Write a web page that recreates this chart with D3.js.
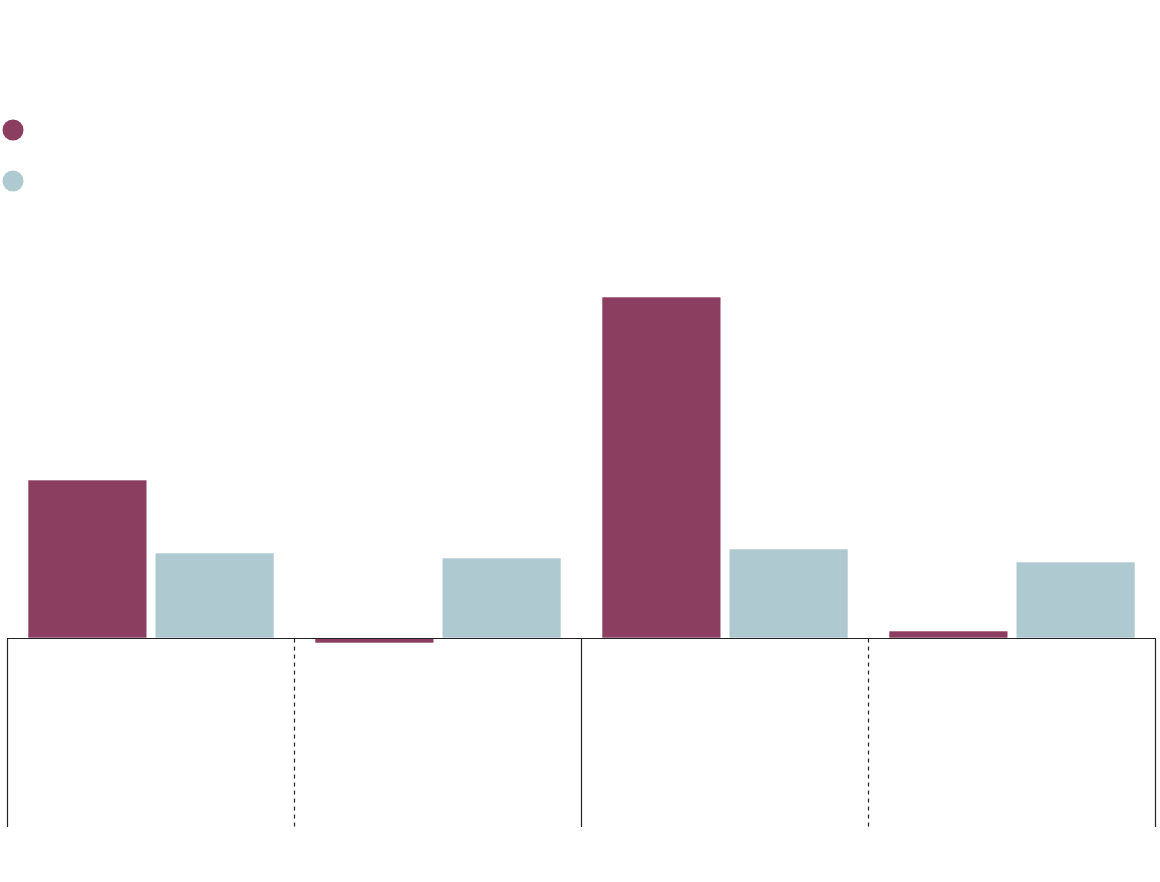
<!DOCTYPE html>
<html>
<head>
<meta charset="utf-8">
<script src="https://cdn.jsdelivr.net/npm/d3@7/dist/d3.min.js"></script>
<style>
  html, body { margin: 0; padding: 0; background: #fff; }
  svg { display: block; }
</style>
</head>
<body>
<div id="chart"></div>
<script>
// data (no labels shown in the reference)
var groups = ["g1", "g2", "g3", "g4"];
var seriesNames = ["a", "b"];
var seriesA = [15.8, -0.5, 34.1, 0.7];
var seriesB = [8.5, 8.0, 8.9, 7.6];
var colors = ["#8b3e5f", "#aecad0"];

var width = 1160, height = 882;

var svg = d3.select("#chart").append("svg")
    .attr("width", width)
    .attr("height", height);

// legend dots
var legend = svg.append("g").attr("class", "legend");
legend.selectAll("circle")
    .data(seriesNames)
    .enter().append("circle")
    .attr("cx", 13)
    .attr("cy", function (d, i) { return 130 + i * 51; })
    .attr("r", 10.5)
    .attr("fill", function (d, i) { return colors[i]; });

var x0 = d3.scaleBand()
    .domain(groups)
    .range([7, 1155])
    .paddingInner(0);

var x1 = d3.scaleBand()
    .domain(seriesNames)
    .range([21, x0.bandwidth() - 20])
    .paddingInner(0.065);

var y = d3.scaleLinear()
    .domain([-18.9, 40])
    .range([827, 238]);

var rows = groups.map(function (g, i) {
    return { group: g, values: [seriesA[i], seriesB[i]] };
});

var bars = svg.append("g").attr("class", "bars");
bars.selectAll("g")
    .data(rows)
    .enter().append("g")
    .attr("transform", function (d) { return "translate(" + x0(d.group) + ",0)"; })
    .selectAll("rect")
    .data(function (d) {
        return d.values.map(function (v, i) { return { key: seriesNames[i], value: v, i: i }; });
    })
    .enter().append("rect")
    .attr("x", function (d) { return x1(d.key); })
    .attr("width", x1.bandwidth())
    .attr("y", function (d) { return y(Math.max(0, d.value)); })
    .attr("height", function (d) { return Math.abs(y(d.value) - y(0)); })
    .attr("fill", function (d) { return colors[d.i]; })
    .attr("stroke", "#fff")
    .attr("stroke-width", 0.6);

// baseline and separators
var grid = svg.append("g").attr("class", "grid");
grid.append("line")
    .attr("x1", x0.range()[0]).attr("x2", x0.range()[1] + 1)
    .attr("y1", y(0) + 0.5).attr("y2", y(0) + 0.5)
    .attr("stroke", "#222").attr("stroke-width", 1.2);

var seps = [x0.range()[0]].concat(groups.map(function (g) { return x0(g) + x0.bandwidth(); }));
grid.selectAll("line.sep")
    .data(seps)
    .enter().append("line")
    .attr("class", "sep")
    .attr("x1", function (d) { return Math.round(d) + 0.5; })
    .attr("x2", function (d) { return Math.round(d) + 0.5; })
    .attr("y1", y(0) + 0.5)
    .attr("y2", y.range()[0])
    .attr("stroke", "#222")
    .attr("stroke-width", 1.2)
    .attr("stroke-dasharray", function (d, i) { return i % 2 === 1 ? "4,4" : null; });
</script>
</body>
</html>
